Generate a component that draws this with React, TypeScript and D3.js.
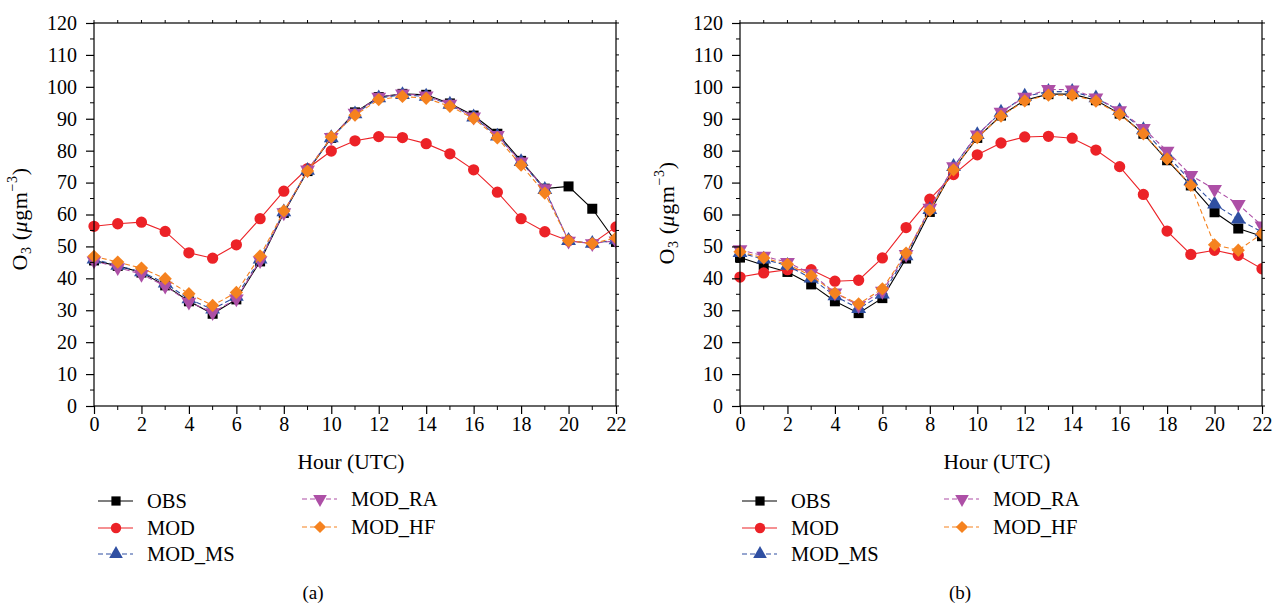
import React, { useEffect, useRef } from "react";
import * as d3 from "d3";

// hours of the day (UTC)
const hours = [0, 1, 2, 3, 4, 5, 6, 7, 8, 9, 10, 11, 12, 13, 14, 15, 16, 17, 18, 19, 20, 21, 22];
const xTicks = [0, 2, 4, 6, 8, 10, 12, 14, 16, 18, 20, 22];
const yTicks = [0, 10, 20, 30, 40, 50, 60, 70, 80, 90, 100, 110, 120];

// panel (a)
const obsA = [45.6, 43.9, 41.8, 37.8, 32.8, 28.9, 33.4, 45.3, 60.5, 73.6, 84.0, 92.0, 96.8, 97.8, 97.5, 94.8, 91.0, 85.3, 76.8, 68.1, 68.8, 61.8, 51.4];
const modA = [56.3, 57.1, 57.6, 54.7, 48.0, 46.3, 50.5, 58.7, 67.3, 74.4, 79.9, 83.1, 84.4, 84.1, 82.2, 79.0, 74.0, 67.0, 58.7, 54.6, 51.8, 50.9, 56.1];
const msA = [46.0, 44.0, 42.0, 38.5, 33.5, 30.3, 34.3, 46.0, 60.8, 73.8, 84.0, 91.5, 96.5, 97.5, 97.0, 94.5, 90.5, 84.5, 76.5, 67.8, 51.8, 50.9, 52.0];
const raA = [45.5, 43.4, 41.3, 37.6, 32.6, 29.3, 33.6, 45.6, 60.6, 74.0, 84.2, 91.8, 96.8, 97.8, 97.2, 94.6, 90.6, 84.8, 76.5, 68.1, 51.7, 50.9, 51.8];
const hfA = [46.9, 45.1, 43.2, 39.9, 35.2, 31.5, 35.6, 47.0, 61.1, 73.6, 84.3, 91.1, 96.0, 97.0, 96.4, 93.9, 90.1, 84.0, 75.5, 66.7, 51.8, 50.9, 52.7];

// panel (b)
const obsB = [46.5, 44.1, 42.0, 38.1, 32.8, 29.1, 33.8, 46.2, 60.8, 74.2, 84.0, 91.0, 95.8, 97.7, 97.7, 95.8, 91.6, 85.3, 77.0, 69.1, 60.7, 55.6, 53.2];
const modB = [40.4, 41.7, 42.7, 42.7, 39.1, 39.4, 46.4, 55.9, 64.8, 72.5, 78.7, 82.4, 84.3, 84.5, 83.9, 80.2, 75.0, 66.3, 54.8, 47.5, 48.8, 47.2, 43.0];
const msB = [48.0, 46.0, 44.0, 40.0, 34.5, 30.5, 35.0, 47.0, 61.5, 75.0, 85.0, 92.0, 97.0, 98.5, 98.5, 96.5, 92.5, 86.5, 78.5, 70.5, 63.2, 58.5, 54.5];
const raB = [49.0, 47.0, 45.0, 41.5, 35.5, 31.5, 36.0, 47.5, 62.0, 75.0, 85.0, 92.1, 96.8, 99.2, 99.1, 96.6, 92.6, 87.0, 79.9, 72.3, 67.9, 63.2, 56.5];
const hfB = [48.3, 46.4, 44.4, 40.8, 35.4, 32.0, 36.7, 47.9, 61.3, 74.0, 84.1, 90.8, 95.6, 97.4, 97.4, 95.5, 91.4, 85.3, 77.4, 69.1, 50.5, 48.8, 54.0];

const seriesNames = ["OBS", "MOD", "MOD_MS", "MOD_RA", "MOD_HF"];

const FONT = "Liberation Serif, DejaVu Serif, serif";

const styles: Record<string, { color: string; dash: string | null; shape: string }> = {
  OBS: { color: "#000000", dash: null, shape: "square" },
  MOD: { color: "#ec2227", dash: null, shape: "circle" },
  MOD_MS: { color: "#2f4fa2", dash: "5,3", shape: "up" },
  MOD_RA: { color: "#ad4fa6", dash: "5,3", shape: "down" },
  MOD_HF: { color: "#f5821f", dash: "5,3", shape: "diamond" },
};

const symbolPath = (shape: string, scale = 1) => {
  if (shape === "square") return d3.symbol(d3.symbolSquare, 100 * scale)();
  if (shape === "circle") return d3.symbol(d3.symbolCircle, 100 * scale)();
  if (shape === "diamond") return d3.symbol(d3.symbolSquare, 88 * scale)();
  return d3.symbol(d3.symbolTriangle, 95 * scale)();
};
const symbolRotate = (shape: string) =>
  shape === "diamond" ? 45 : shape === "down" ? 180 : 0;

const panels = [
  {
    id: "a",
    data: [obsA, modA, msA, raA, hfA],
    left: 94,
    right: 616,
    yLabelX: 27,
    yLabelY: 219,
    legendX: [98, 302],
    captionX: 313,
  },
  {
    id: "b",
    data: [obsB, modB, msB, raB, hfB],
    left: 740,
    right: 1262,
    yLabelX: 674,
    yLabelY: 213,
    legendX: [742, 944],
    captionX: 960,
  },
];

const App = () => {
  const svgRef = useRef<SVGSVGElement>(null);

  useEffect(() => {
    const root = d3.select(svgRef.current);
    root.selectAll("*").remove();
    root.style("font-family", FONT);

    const top = 23;
    const bottom = 406;

    panels.forEach((p) => {
      const g = root.append("g");
      const x = d3.scaleLinear().domain([0, 22]).range([p.left, p.right]);
      const y = d3.scaleLinear().domain([0, 120]).range([bottom, top]);

      const clipId = `clip-${p.id}`;
      g.append("clipPath")
        .attr("id", clipId)
        .append("rect")
        .attr("x", p.left - 12)
        .attr("y", top - 12)
        .attr("width", p.right - p.left + 12)
        .attr("height", bottom - top + 24);

      // series lines + markers
      const plot = g.append("g").attr("clip-path", `url(#${clipId})`);
      p.data.forEach((vals, si) => {
        const st = styles[seriesNames[si]];
        const line = d3
          .line<number>()
          .x((_, i) => x(hours[i]))
          .y((d) => y(d));
        plot
          .append("path")
          .datum(vals)
          .attr("d", line)
          .attr("fill", "none")
          .attr("stroke", st.color)
          .attr("stroke-width", 1.1)
          .attr("stroke-dasharray", st.dash);
        plot
          .selectAll(null)
          .data(vals)
          .enter()
          .append("path")
          .attr("d", symbolPath(st.shape))
          .attr(
            "transform",
            (d, i) => `translate(${x(hours[i])},${y(d)}) rotate(${symbolRotate(st.shape)})`
          )
          .attr("fill", st.color);
      });

      // frame
      g.append("rect")
        .attr("x", p.left)
        .attr("y", top)
        .attr("width", p.right - p.left)
        .attr("height", bottom - top)
        .attr("fill", "none")
        .attr("stroke", "#000")
        .attr("stroke-width", 1.2);

      // left axis
      const yAxis = d3.axisLeft(y).tickValues(yTicks).tickSize(8).tickPadding(9);
      const ya = g.append("g").attr("transform", `translate(${p.left},0)`).call(yAxis);
      ya.attr("font-family", null).attr("font-size", 20);
      ya.select(".domain").remove();
      ya.selectAll("text").style("font-family", FONT).attr("fill", "#000");
      ya.selectAll("line").attr("stroke-width", 1.2);
      const minorY = yTicks.slice(0, -1).map((v) => v + 5);
      g.selectAll(null)
        .data(minorY)
        .enter()
        .append("line")
        .attr("x1", p.left - 4)
        .attr("x2", p.left)
        .attr("y1", (d) => y(d))
        .attr("y2", (d) => y(d))
        .attr("stroke", "#000");
      // right side small ticks
      g.selectAll(null)
        .data(d3.merge([yTicks, minorY]) as number[])
        .enter()
        .append("line")
        .attr("x1", p.right)
        .attr("x2", p.right + 3)
        .attr("y1", (d) => y(d))
        .attr("y2", (d) => y(d))
        .attr("stroke", "#000");

      // bottom axis
      const xAxis = d3.axisBottom(x).tickValues(xTicks).tickSize(8).tickPadding(3);
      const xa = g.append("g").attr("transform", `translate(0,${bottom})`).call(xAxis);
      xa.attr("font-family", null).attr("font-size", 20);
      xa.select(".domain").remove();
      xa.selectAll("text").style("font-family", FONT).attr("fill", "#000");
      xa.selectAll("line").attr("stroke-width", 1.2);
      const oddHours = hours.filter((h) => h % 2 === 1);
      g.selectAll(null)
        .data(oddHours)
        .enter()
        .append("line")
        .attr("x1", (d) => x(d))
        .attr("x2", (d) => x(d))
        .attr("y1", bottom)
        .attr("y2", bottom + 4)
        .attr("stroke", "#000");
      // top small ticks
      g.selectAll(null)
        .data(hours)
        .enter()
        .append("line")
        .attr("x1", (d) => x(d))
        .attr("x2", (d) => x(d))
        .attr("y1", top)
        .attr("y2", top - 3)
        .attr("stroke", "#000");

      // axis titles
      g.append("text")
        .attr("x", (p.left + p.right) / 2 - 4)
        .attr("y", 469)
        .attr("text-anchor", "middle")
        .style("font-family", FONT)
        .attr("font-size", 21.5)
        .text("Hour (UTC)");

      const yl = g
        .append("text")
        .attr("transform", `translate(${p.yLabelX},${p.yLabelY}) rotate(-90)`)
        .attr("text-anchor", "middle")
        .style("font-family", FONT)
        .attr("font-size", 22)
        .attr("letter-spacing", 0.6);
      yl.append("tspan").text("O");
      yl.append("tspan").attr("font-size", 14).attr("dy", 4).text("3");
      yl.append("tspan").attr("dy", -4).text(" (");
      yl.append("tspan").attr("font-style", "italic").text("μ");
      yl.append("tspan").text("gm");
      yl.append("tspan").attr("font-size", 14).attr("dy", -10).text("−3");
      yl.append("tspan").attr("dy", 10).text(")");

      // legend
      const rows = [
        { name: "OBS", col: 0, y: 501 },
        { name: "MOD", col: 0, y: 528 },
        { name: "MOD_MS", col: 0, y: 554 },
        { name: "MOD_RA", col: 1, y: 499 },
        { name: "MOD_HF", col: 1, y: 527 },
      ];
      const lg = g
        .selectAll(".legend")
        .data(rows)
        .enter()
        .append("g")
        .attr("transform", (d) => `translate(${p.legendX[d.col]},${d.y})`);
      lg.append("line")
        .attr("x1", 0)
        .attr("x2", 35)
        .attr("stroke", (d) => styles[d.name].color)
        .attr("stroke-width", 1.1)
        .attr("stroke-dasharray", (d) => styles[d.name].dash);
      lg.append("path")
        .attr("d", (d) => symbolPath(styles[d.name].shape, 0.85))
        .attr("transform", (d) => `translate(18,0) rotate(${symbolRotate(styles[d.name].shape)})`)
        .attr("fill", (d) => styles[d.name].color);
      lg.append("text")
        .attr("x", 49)
        .attr("y", 7)
        .style("font-family", FONT)
        .attr("font-size", 20.5)
        .text((d) => d.name);

      g.append("text")
        .attr("x", p.captionX)
        .attr("y", 599)
        .attr("text-anchor", "middle")
        .style("font-family", FONT)
        .attr("font-size", 19)
        .text(`(${p.id})`);
    });
  }, []);

  return (
    <svg
      ref={svgRef}
      width={1282}
      height={604}
      style={{ position: "absolute", left: 0, top: 0, background: "#fff" }}
    />
  );
};

export default App;
